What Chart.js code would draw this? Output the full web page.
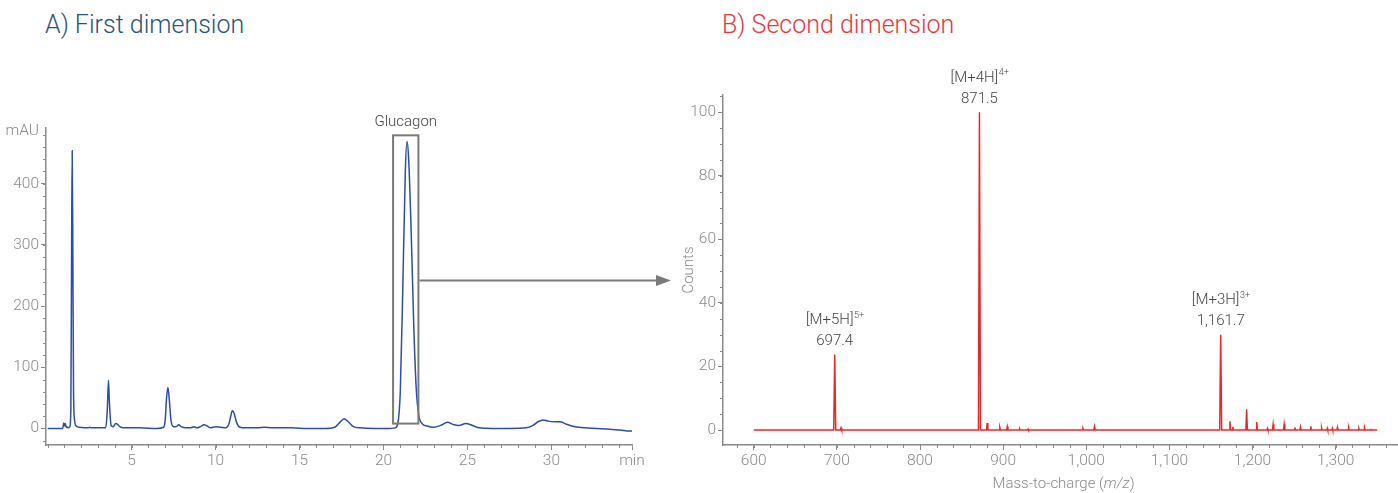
<!DOCTYPE html>
<html>
<head>
<meta charset="utf-8">
<script src="https://cdn.jsdelivr.net/npm/chart.js@4.4.0/dist/chart.umd.min.js"></script>
<style>
  body { margin: 0; background: #fff; }
  #wrap { position: relative; width: 1398px; height: 493px; overflow: hidden; font-family: Roboto, sans-serif; }
  .title { position: absolute; top: 8px; font-size: 25px; font-weight: 300; line-height: 34px; white-space: nowrap; }
  #titleA { left: 45px; color: #2b5278; }
  #titleB { left: 722px; color: #e8383d; }
  #left { position: absolute; left: 0; top: 0; }
  #right { position: absolute; left: 680px; top: 0; }
</style>
</head>
<body>
<div id="wrap">
  <div class="title" id="titleA">A) First dimension</div>
  <div class="title" id="titleB">B) Second dimension</div>
  <canvas id="left" width="680" height="493"></canvas>
  <canvas id="right" width="718" height="493"></canvas>
</div>
<script>
// chromatogram (first dimension)
var timeMin = [0, 0.9, 0.95, 1.0, 1.05, 1.1, 1.15, 1.2, 1.3, 1.38, 1.42, 1.46, 1.5, 1.54, 1.6, 1.7, 1.9, 2.4, 2.5, 2.6, 3.0,
  3.45, 3.55, 3.62, 3.68, 3.78, 3.9, 4.05, 4.15, 4.3, 4.5, 4.8, 5.5, 6.5, 6.9, 7.0, 7.08, 7.16, 7.24, 7.35, 7.5, 7.65,
  7.8, 7.95, 8.2, 8.5, 8.7, 8.9, 9.1, 9.3, 9.5, 9.7, 10.0, 10.3, 10.6, 10.8, 10.9, 11.0, 11.1, 11.25, 11.45, 11.8, 12.5,
  12.9, 13.4, 14.5, 15.5, 16.5, 17.1, 17.4, 17.65, 17.9, 18.2, 18.6, 19.5, 20.3, 20.7, 20.85, 21.0, 21.15, 21.3, 21.4,
  21.5, 21.65, 21.8, 21.95, 22.1, 22.3, 22.6, 23.0, 23.4, 23.8, 24.2, 24.5, 24.9, 25.3, 25.7, 26.5, 27.5, 28.5, 28.9,
  29.2, 29.5, 29.8, 30.2, 30.5, 30.9, 31.4, 32.0, 32.7, 33.3, 33.8, 34.2, 34.5, 34.8];
var absMAU = [0, 0, 9, 4, 8, 2, 3, 1, 2, 30, 260, 454, 280, 60, 14, 4, 2, 1, 2, 1, 1,
  1, 30, 79, 40, 5, 3, 8, 7, 3, 1, 1, 1, 0, 2, 14, 50, 67, 48, 12, 3, 3,
  6, 3, 1, 1, 3, 1, 3, 6, 4, 1, 3, 2, 1, 8, 20, 29, 25, 10, 2, 1, 1,
  2, 1, 1, 0, 0, 2, 10, 16, 11, 3, 1, 0, 0, 1, 8, 60, 230, 420, 469,
  440, 320, 170, 65, 22, 8, 4, 2, 5, 10, 6, 5, 8, 5, 1, 0, 0, 1, 5,
  11, 14, 12, 11, 11, 7, 3, 1, 0, -1, -2, -3, -4, -4];
var timeTicks = [5, 10, 15, 20, 25, 30];
var mauTicks = [0, 100, 200, 300, 400];
var peakName = 'Glucagon';
var peakBox = [20.57, 22.08, 8, 479];   // t start, t end, low, high

// mass spectrum (second dimension)
var mzValues = [600, 696.2, 697.4, 698.6, 704.2, 705, 705.8, 870.3, 871.5, 872.7, 880, 880.8, 881.6,
  895.2, 896, 896.8, 904.2, 905, 905.8, 919.5, 920, 920.5, 929.5, 930, 930.5, 995.2, 996, 996.8,
  1009.2, 1010, 1010.8, 1160.5, 1161.7, 1162.9, 1172, 1172.8, 1173.6, 1175.6, 1176.3, 1177,
  1192, 1192.9, 1193.8, 1204.2, 1205, 1205.8, 1217.4, 1218, 1218.6, 1224, 1224.8, 1225.6,
  1237.2, 1238, 1238.8, 1250.4, 1251, 1251.6, 1257, 1257.7, 1258.4, 1269.4, 1270.1, 1270.8,
  1282.5, 1283.1, 1283.7, 1289.5, 1290, 1290.5, 1295.5, 1296, 1296.5, 1301.5, 1302.1, 1302.7,
  1315, 1315.6, 1316.2, 1327.5, 1328, 1328.5, 1334.2, 1334.8, 1335.4, 1341.5, 1342, 1342.5, 1350];
var countValues = [0, 0, 23.8, 0, 0, 0.7, 0, 0, 100, 0, 0, 2.2, 0,
  0, 0.8, 0, 0, 1.1, 0, 0, 0.3, 0, 0, 0.3, 0, 0, 0.5, 0,
  0, 1.1, 0, 0, 30, 0, 0, 2.8, 0, 0, 1, 0,
  0, 6.5, 0, 0, 2.5, 0, 0, 0.5, 0, 0, 1.8, 0,
  0, 1.8, 0, 0, 0.8, 0, 0, 1, 0, 0, 1.2, 0,
  0, 0.7, 0, 0, 0.5, 0, 0, 0.5, 0, 0, 0.8, 0,
  0, 0.7, 0, 0, 0.4, 0, 0, 0.6, 0, 0, 0.4, 0, 0];
var mzTicks = [600, 700, 800, 900, 1000, 1100, 1200, 1300];
var countTicks = [0, 20, 40, 60, 80, 100];
var ionLabels = ['[M+5H]', '[M+4H]', '[M+3H]'];
var ionCharges = ['5+', '4+', '3+'];
var ionMz = [697.4, 871.5, 1161.7];
var ionCounts = [23.8, 100, 30];

Chart.defaults.font.family = 'Roboto, sans-serif';
Chart.defaults.font.weight = 300;
Chart.defaults.font.size = 15;
Chart.defaults.color = '#8c8c8c';

var axisGrey = '#8a8a8a';

var minorTicks = {
    id: 'minorTicks',
    afterDraw: function (chart, args, opts) {
        var ctx = chart.ctx;
        ctx.save();
        ctx.strokeStyle = axisGrey;
        ctx.lineWidth = 1;
        (opts.list || []).forEach(function (m) {
            var s = chart.scales[m.id];
            var n0 = Math.ceil(s.min / m.step);
            var n1 = Math.floor(s.max / m.step);
            for (var n = n0; n <= n1; n++) {
                var p = Math.round(s.getPixelForValue(n * m.step)) + 0.5;
                ctx.beginPath();
                if (s.isHorizontal()) {
                    ctx.moveTo(p, s.top);
                    ctx.lineTo(p, s.top + m.len);
                } else {
                    ctx.moveTo(s.right - m.len, p);
                    ctx.lineTo(s.right, p);
                }
                ctx.stroke();
            }
        });
        ctx.restore();
    }
};

var glucagonBox = {
    id: 'glucagonBox',
    afterDraw: function (chart) {
        var x = chart.scales.x, y = chart.scales.y, ctx = chart.ctx;
        var x0 = x.getPixelForValue(peakBox[0]), x1 = x.getPixelForValue(peakBox[1]);
        var y0 = y.getPixelForValue(peakBox[3]), y1 = y.getPixelForValue(peakBox[2]);
        ctx.save();
        ctx.strokeStyle = '#7a7a7a';
        ctx.lineWidth = 2;
        ctx.strokeRect(x0, y0, x1 - x0, y1 - y0);
        ctx.fillStyle = '#444';
        ctx.font = '300 15px Roboto, sans-serif';
        ctx.textAlign = 'center';
        ctx.textBaseline = 'middle';
        ctx.fillText(peakName, (x0 + x1) / 2, y0 - 13);
        // arrow to second dimension
        var ay = Math.round(y.getPixelForValue(242)) + 0.5;
        var tip = 671;
        ctx.beginPath();
        ctx.moveTo(x1 + 1, ay);
        ctx.lineTo(tip - 14, ay);
        ctx.stroke();
        ctx.fillStyle = '#7a7a7a';
        ctx.beginPath();
        ctx.moveTo(tip, ay);
        ctx.lineTo(tip - 15, ay - 5.5);
        ctx.lineTo(tip - 15, ay + 5.5);
        ctx.closePath();
        ctx.fill();
        ctx.restore();
    }
};

var ionNotes = {
    id: 'ionNotes',
    afterDraw: function (chart) {
        var x = chart.scales.x, y = chart.scales.y, ctx = chart.ctx;
        ctx.save();
        ctx.fillStyle = '#444';
        ctx.textBaseline = 'middle';
        for (var i = 0; i < ionMz.length; i++) {
            var px = x.getPixelForValue(ionMz[i]);
            var py = y.getPixelForValue(ionCounts[i]);
            ctx.font = '300 15px Roboto, sans-serif';
            var w1 = ctx.measureText(ionLabels[i]).width;
            ctx.font = '300 9px Roboto, sans-serif';
            var w2 = ctx.measureText(ionCharges[i]).width;
            var sx = px - (w1 + w2) / 2;
            ctx.textAlign = 'left';
            ctx.font = '300 15px Roboto, sans-serif';
            ctx.fillText(ionLabels[i], sx, py - 34);
            ctx.font = '300 9px Roboto, sans-serif';
            ctx.fillText(ionCharges[i], sx + w1 + 0.5, py - 39);
            ctx.font = '300 15px Roboto, sans-serif';
            ctx.textAlign = 'center';
            ctx.fillText(ionMz[i].toLocaleString('en-US', { minimumFractionDigits: 1 }), px, py - 13);
        }
        // x axis title with italic m/z
        var parts = [['Mass-to-charge (', 'normal'], ['m/z', 'italic'], [')', 'normal']];
        var total = 0;
        parts.forEach(function (p) {
            ctx.font = p[1] + ' 300 15px Roboto, sans-serif';
            p.push(ctx.measureText(p[0]).width);
            total += p[2];
        });
        var cx = (chart.chartArea.left + chart.chartArea.right) / 2 + 3 - total / 2;
        ctx.fillStyle = axisGrey;
        ctx.textAlign = 'left';
        parts.forEach(function (p) {
            ctx.font = p[1] + ' 300 15px Roboto, sans-serif';
            ctx.fillText(p[0], cx, 484);
            cx += p[2];
        });
        ctx.restore();
    }
};

function axisBase(tickLen) {
    return {
        grid: { display: true, drawOnChartArea: false, drawTicks: true, tickLength: tickLen, color: axisGrey, tickWidth: 1 },
        border: { display: true, color: axisGrey, width: 1.5 },
        ticks: { color: axisGrey, padding: 2, autoSkip: false, maxRotation: 0, font: { size: 15.5, weight: 300 } }
    };
}

// left chart
var xLeft = axisBase(5);
xLeft.type = 'linear';
xLeft.min = -0.1;
xLeft.max = 34.8;
xLeft.afterBuildTicks = function (s) {
    s.ticks = timeTicks.concat([34.8]).map(function (v) { return { value: v }; });
};
xLeft.ticks.callback = function (v) { return v === 34.8 ? 'min' : v; };
xLeft.afterFit = function (s) { s.height = 48; };

var yLeft = axisBase(5);
yLeft.min = -27;
yLeft.max = 491;
yLeft.afterBuildTicks = function (s) {
    s.ticks = mauTicks.concat([486]).map(function (v) { return { value: v }; });
};
yLeft.ticks.callback = function (v) { return v === 486 ? 'mAU' : v; };
yLeft.grid.tickColor = function (c) { return c.tick && c.tick.value === 486 ? 'rgba(0,0,0,0)' : axisGrey; };
yLeft.afterFit = function (s) { s.width = 46; };

new Chart('left', {
    type: 'line',
    data: {
        datasets: [{
            data: timeMin.map(function (t, i) { return { x: t, y: absMAU[i] }; }),
            borderColor: '#2d4ea3',
            borderWidth: 1.5,
            pointRadius: 0,
            cubicInterpolationMode: 'monotone',
            fill: false
        }]
    },
    options: {
        responsive: false,
        animation: false,
        devicePixelRatio: 1,
        layout: { padding: { left: 0, top: 128, right: 48, bottom: 0 } },
        plugins: {
            legend: { display: false },
            tooltip: { enabled: false },
            minorTicks: { list: [{ id: 'x', step: 1, len: 3 }, { id: 'y', step: 20, len: 3 }] }
        },
        scales: { x: xLeft, y: yLeft }
    },
    plugins: [minorTicks, glucagonBox]
});

// right chart
var xRight = axisBase(5);
xRight.type = 'linear';
xRight.min = 563;
xRight.max = 1375;
xRight.afterBuildTicks = function (s) {
    s.ticks = mzTicks.map(function (v) { return { value: v }; });
};
xRight.ticks.callback = function (v) { return v.toLocaleString('en-US'); };
xRight.afterFit = function (s) { s.height = 48; };

var yRight = axisBase(5);
yRight.min = -4.7;
yRight.max = 105.4;
yRight.afterBuildTicks = function (s) {
    s.ticks = countTicks.map(function (v) { return { value: v }; });
};
yRight.title = { display: true, text: 'Counts', color: axisGrey, padding: 0, font: { size: 15, weight: 300 } };
yRight.afterFit = function (s) { s.width = 43; };

new Chart('right', {
    type: 'line',
    data: {
        datasets: [{
            data: mzValues.map(function (m, i) { return { x: m, y: countValues[i] }; }),
            borderColor: '#e82828',
            borderWidth: 1.5,
            pointRadius: 0,
            tension: 0,
            fill: false
        }]
    },
    options: {
        responsive: false,
        animation: false,
        devicePixelRatio: 1,
        layout: { padding: { left: 0, top: 95, right: 0, bottom: 0 } },
        plugins: {
            legend: { display: false },
            tooltip: { enabled: false },
            minorTicks: { list: [{ id: 'x', step: 20, len: 3 }, { id: 'y', step: 5, len: 3 }] }
        },
        scales: { x: xRight, y: yRight }
    },
    plugins: [minorTicks, ionNotes]
});
</script>
</body>
</html>
